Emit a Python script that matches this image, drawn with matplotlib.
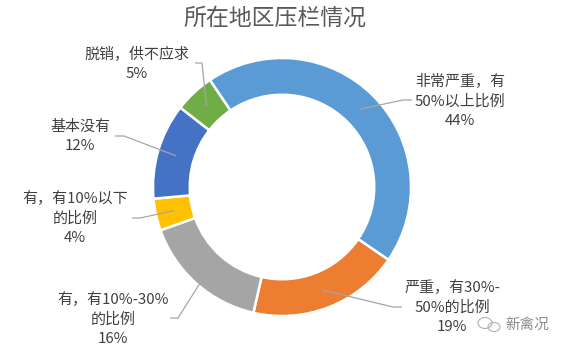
import numpy as np
import matplotlib
matplotlib.use("Agg")
import matplotlib.pyplot as plt
from matplotlib.patches import Ellipse

plt.rcParams['font.family'] = ['Noto Sans CJK SC', 'DejaVu Sans']

# Survey shares
categories = ["非常严重，有\n50%以上比例", "严重，有30%-\n50%的比例", "有，有10%-30%\n的比例",
              "有，有10%以下\n的比例", "基本没有", "脱销，供不应求"]
values = [44, 19, 16, 4, 12, 5]
colors = ["#5B9BD5", "#ED7D31", "#A5A5A5", "#FFC000", "#4472C4", "#70AD47"]
title = "所在地区压栏情况"

W, H = 566, 350
fig = plt.figure(figsize=(W / 100, H / 100), dpi=100)
ax = fig.add_axes([0, 0, 1, 1])

cx, cy, R = 282, H - 187, 129
width = 0.285
start = 124
wedges, _ = ax.pie(values, colors=colors, startangle=start, counterclock=False,
                   center=(cx, cy), radius=R, frame=True,
                   wedgeprops=dict(width=R * width, edgecolor="white", linewidth=1.8))
ax.set_xlim(0, W)
ax.set_ylim(0, H)
ax.set_aspect("equal")
ax.axis("off")

# label block centres, line end at the text and elbow point (pixel coords from top)
label_pos = [(460, 101), (452, 307), (113, 319), (75, 218), (80, 136), (137, 64)]
line_end = [(412, 100), (402, 307), (170, 318), (132, 218), (115, 136), (195, 63)]
elbow = [(403, 100), (393, 307), (178, 318), (140, 218), (124, 136), (202, 63)]

rmid = R * (1 - width / 2)
total = sum(values)
for w, cat, v, lp, le, el in zip(wedges, categories, values, label_pos, line_end, elbow):
    ang = np.deg2rad((w.theta1 + w.theta2) / 2)
    ax_pt = (cx + rmid * np.cos(ang), cy + rmid * np.sin(ang))
    ax.plot([le[0], el[0], ax_pt[0]], [H - le[1], H - el[1], ax_pt[1]],
            color="#A6A6A6", lw=0.9, solid_capstyle="butt")
    ax.text(lp[0], H - lp[1], f"{cat}\n{v / total * 100:.0f}%", ha="center", va="center",
            multialignment="center", fontsize=10.8, color="#404040", linespacing=1.45)

ax.text(275, H - 18, title, ha="center", va="center", fontsize=16.5, color="#595959")

# watermark
ax.add_patch(Ellipse((485, H - 323), 14, 11, fill=False, ec="#B0B0B0", lw=0.8))
ax.add_patch(Ellipse((494, H - 327), 12, 9, fill=False, ec="#B0B0B0", lw=0.8, fc="white"))
ax.text(527, H - 325, "新禽况", ha="center", va="center", fontsize=10.5, color="#8C8C8C")

fig.savefig("out.png", dpi=100)
